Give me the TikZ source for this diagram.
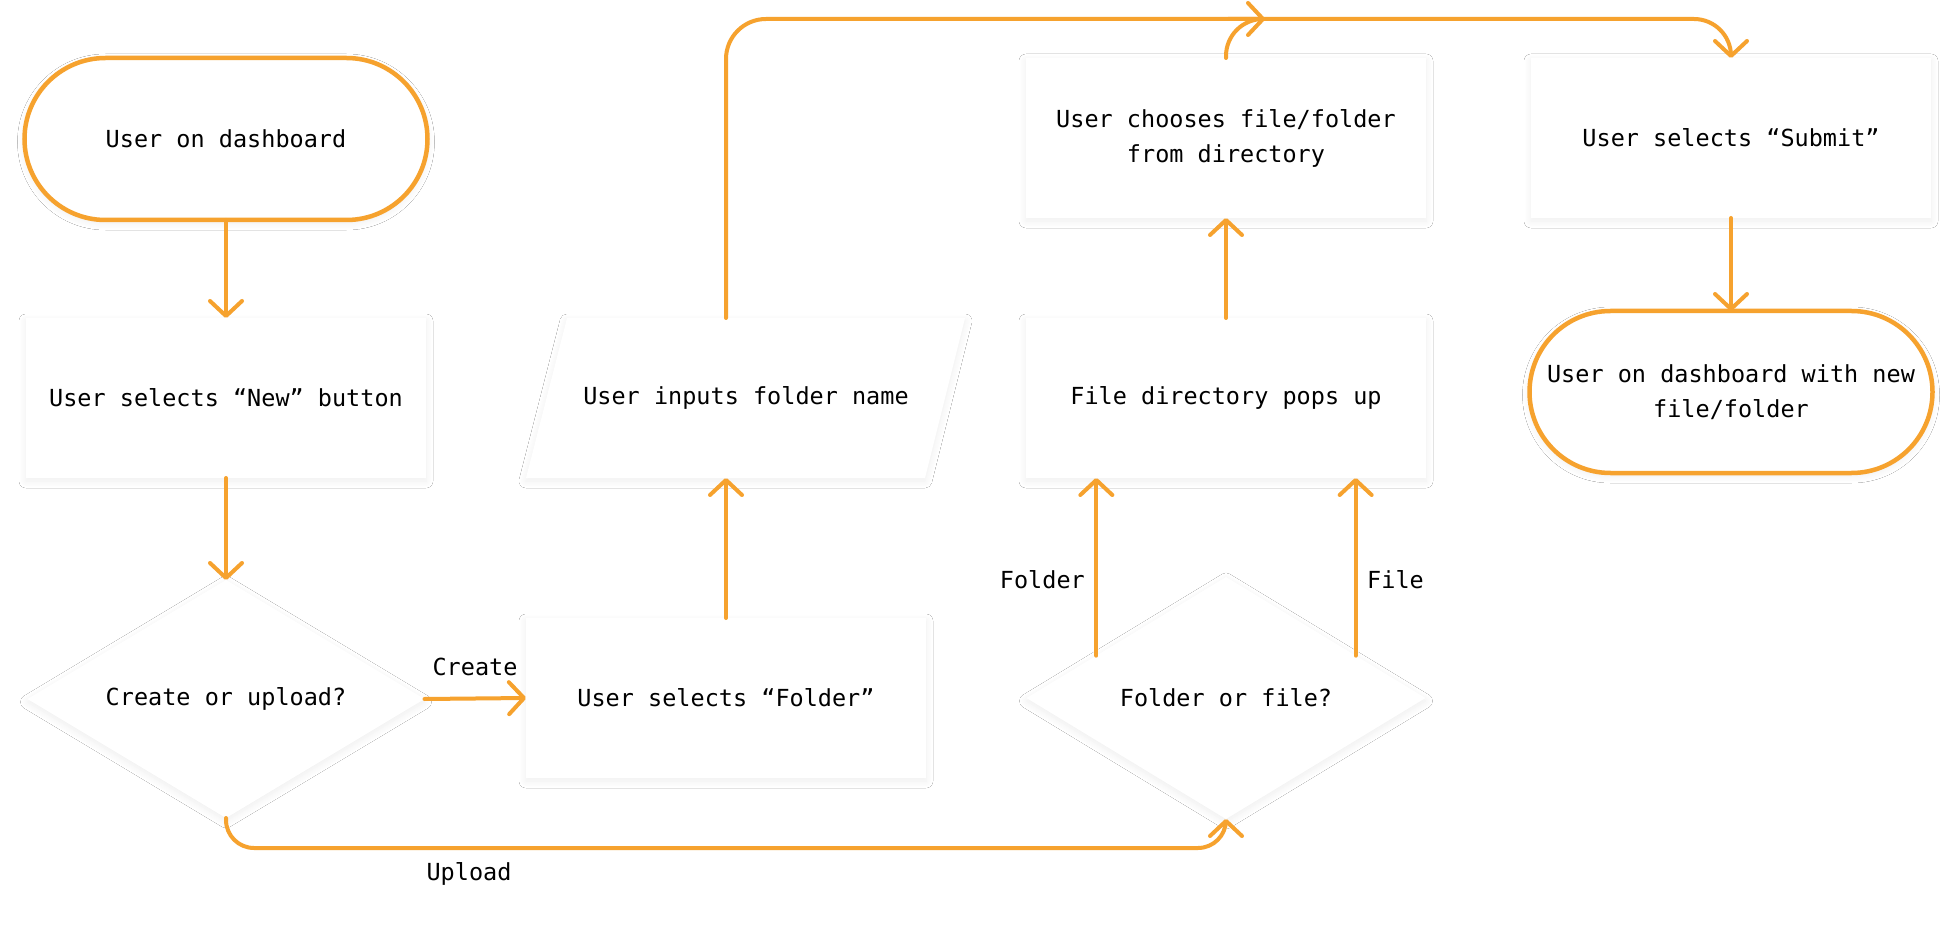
\documentclass[tikz,border=0pt]{standalone}
\usepackage{fontspec}
\setmonofont{DejaVu Sans Mono}
\usetikzlibrary{arrows.meta,shapes.geometric,calc,shadows.blur}
\definecolor{flow}{HTML}{F6A22E}
\begin{document}
\begin{tikzpicture}[x=1pt,y=-1pt,
  every node/.style={font=\ttfamily\fontsize{23.5}{35}\selectfont, text=black},
  softshadow/.style={blur shadow={shadow xshift=0pt, shadow yshift=-3pt, shadow blur radius=7pt, shadow opacity=7, shadow blur steps=16}},
  card/.style={fill=white, inner sep=0pt, outer sep=0pt, align=center, softshadow},
  boxnode/.style={card, rectangle, minimum width=400pt, minimum height=160pt},
  term/.style={card, rectangle, rounded corners=81pt, draw=flow, line width=4.5pt, minimum width=403pt, minimum height=162pt},
  dec/.style={card, diamond, shape aspect=1.67},
  paratext/.style={rectangle, inner sep=0pt, outer sep=0pt, minimum width=399pt, minimum height=160pt, align=center},
  parashape/.style={fill=white, softshadow},
  flowline/.style={draw=flow, line width=4pt, line cap=round},
  flowarrow/.style={flowline, -{Straight Barb[length=15pt,width=32pt,round]}},
  lbl/.style={inner sep=0pt}
]
\useasboundingbox (0,0) rectangle (1955,949);
\fill[white] (0,0) rectangle (1955,949);

% parallelogram body (drawn first, text node on top)
\path[parashape] (526,478) -- (925,478) -- (965,318) -- (567,318) -- cycle;

% nodes
\node[term] (t1) at (226,139) {User on dashboard};
\node[boxnode] (nb) at (226,398) {User selects “New” button};
\node[dec, minimum width=397pt, minimum height=238pt] (d1) at (226,699) {Create or upload?};
\node[boxnode] (fb) at (726,698) {User selects “Folder”};
\node[paratext] (pg) at (746,398) {User inputs folder name};
\node[boxnode] (ch) at (1226,138) {User chooses file/folder\\from directory};
\node[boxnode] (fd) at (1226,398) {File directory pops up};
\node[dec, minimum width=399pt, minimum height=242pt] (d2) at (1226,698) {Folder or file?};
\node[boxnode] (sb) at (1731,138) {User selects “Submit”};
\node[term] (t2) at (1731,392) {User on dashboard with new\\file/folder};

% labels
\node[lbl] (lcreate) at (475,667) {Create};
\node[lbl] (lupload) at (469,874) {Upload};
\node[lbl, anchor=east] (lfolder) at (1085,580) {Folder};
\node[lbl, anchor=west] (lfile) at (1367,580) {File};

% helper coordinates
\coordinate (j) at (1265,19);
\coordinate (u) at (700,848);
\coordinate (fl) at ($(d2.north)!0.65!(d2.west)$);
\coordinate (fr) at ($(d2.north)!0.65!(d2.east)$);

% connectors
\draw[flowarrow] (t1.south) -- (nb.north);
\draw[flowarrow] (nb.south) -- (d1.north);
\draw[flowarrow] (d1.east) -- (fb.west);
\draw[flowarrow] (fb.north) -- (fb.north |- pg.south);
\draw[flowarrow, rounded corners=40pt] (fb.north |- pg.north) |- (j);
\draw[flowarrow, rounded corners=37pt] (ch.north) |- (j) -| (sb.north);
\draw[flowarrow] (fd.north) -- (ch.south);
\draw[flowarrow] (fl) -- (fl |- fd.south);
\draw[flowarrow] (fr) -- (fr |- fd.south);
\draw[flowarrow, rounded corners=28pt] (d1.south) |- (u) -| (d2.south);
\draw[flowarrow] (sb.south) -- (t2.north);
\end{tikzpicture}
\end{document}
